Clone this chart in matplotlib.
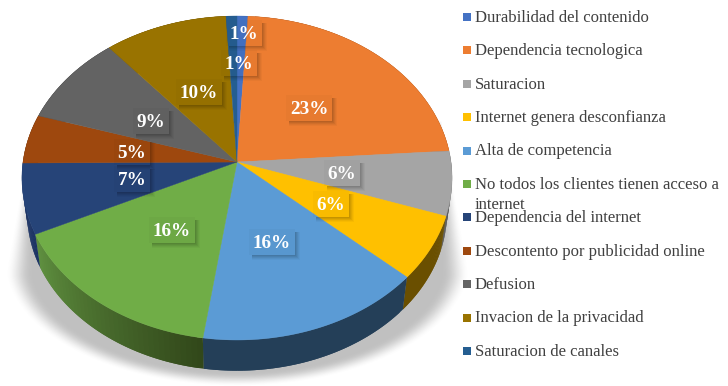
import numpy as np
import matplotlib.pyplot as plt
from matplotlib.colors import to_rgb
from matplotlib.patches import Polygon, Rectangle

categories = ['Durabilidad del contenido', 'Dependencia tecnologica', 'Saturacion',
              'Internet genera desconfianza', 'Alta de competencia',
              'No todos los clientes tienen acceso a\ninternet', 'Dependencia del internet',
              'Descontento por publicidad online', 'Defusion',
              'Invacion de la privacidad', 'Saturacion de canales']
shares = [0.9, 23.0, 6.4, 6.4, 15.6, 15.6, 7.0, 4.9, 9.1, 10.2, 0.9]

colors = ['#4472C4', '#ED7D31', '#A5A5A5', '#FFC000', '#5B9BD5', '#70AD47',
          '#264478', '#9E480E', '#636363', '#997300', '#255E91']
side_start = ['#223962', '#77401a', '#5a5a5a', '#6a4f00', '#243f58', '#32481a',
              '#1b3364', '#4f2407', '#323232', '#4d3a00', '#132f49']
side_end = ['#223962', '#77401a', '#5a5a5a', '#6a4f00', '#243f58', '#5f9040',
            '#1b3364', '#4f2407', '#323232', '#4d3a00', '#132f49']

# label centres in pixels, same order as categories
label_xy = [(244, 33), (309, 108), (342, 173), (331, 204), (272, 242), (172, 230),
            (132, 179), (132, 152), (151, 121), (199, 92), (239, 63)]

# pie geometry in pixels, k is the perspective of the tilted disc
cx, cy = 237, 162
a, b, k = 214, 160.4, 0.0988
depth, shrink = 35, 0.976


def disc(theta, scale=1.0, dy=0.0):
    u, v = np.sin(theta), -np.cos(theta)
    den = 1 - k * v
    return cx + scale * a * u / den, cy + dy + scale * b * v / den


fig = plt.figure(figsize=(7.28, 3.86), dpi=100)
ax = fig.add_axes([0, 0, 1, 1])

# soft shadow under the pie
yy, xx = np.mgrid[0:386, 0:500]
half = np.minimum(205 + np.clip(yy - 125, 0, None) * 0.186, 233)
lower = np.clip(yy - 262, 0, None) / 124
d = np.sqrt((np.abs(xx - cx) / half) ** 2 + lower ** 2)
soft = np.clip((yy - 120) * 0.18, 2, 26)
fade = np.clip((1 - d) * half / soft, 0, 1)
fade = fade * fade * (3 - 2 * fade) * np.clip((yy - 120) / 15, 0, 1)
shadow = np.zeros(yy.shape + (4,))
shadow[..., :3] = 0.42
shadow[..., 3] = fade * 0.42
ax.imshow(shadow, extent=(0, 500, 386, 0), aspect='auto', zorder=1, interpolation='bilinear')
ax.set_xlim(0, 728)
ax.set_ylim(386, 0)
ax.axis('off')

edges = 2 * np.pi * np.cumsum([0] + shares) / sum(shares)

# outer wall, strips overlap a little so no seams show
for i in range(len(shares)):
    t = np.linspace(edges[i], edges[i + 1], 41)
    c0 = np.array(to_rgb(side_start[i]))
    c1 = np.array(to_rgb(side_end[i]))
    for j in range(40):
        seg = t[j:j + 3]
        x1, y1 = disc(seg)
        x2, y2 = disc(seg, shrink, depth)
        col = c0 + (c1 - c0) * j / 39
        ax.fill(np.r_[x1, x2[::-1]], np.r_[y1, y2[::-1]], color=col, lw=0, zorder=2)

# top face
for i in range(len(shares)):
    t = np.linspace(edges[i], edges[i + 1], 80)
    x, y = disc(t)
    ax.fill(np.r_[cx, x], np.r_[cy, y], color=colors[i], lw=0.3, zorder=3)

# percent labels, the box is see-through and only its drop shadow shows
for i, (lx, ly) in enumerate(label_xy):
    txt = f'{shares[i]:.0f}%'
    w = 23 if len(txt) > 2 else 18
    h = 13
    ax.add_patch(Rectangle((lx - w, ly - h), 2 * w, 2 * h, fc='black', alpha=0.025, lw=0, zorder=4))
    for grow, alpha in [(4.5, 0.03), (3.5, 0.04), (2.5, 0.05), (1.5, 0.06), (0.7, 0.06)]:
        x1, y1 = lx + w + grow, ly + h + grow
        pts = [(lx + w, ly - h + 3), (x1, ly - h + 3), (x1, y1), (lx - w + 3, y1),
               (lx - w + 3, ly + h), (lx + w, ly + h)]
        ax.add_patch(Polygon(pts, fc='black', alpha=alpha, lw=0, zorder=4))
    ax.text(lx, ly + 1.5, txt, color='white', fontsize=13.8, fontweight='bold', family='Liberation Serif',
            ha='center', va='center', zorder=5)

# legend by hand, the wrapped entry runs into the next row in the original
for i, name in enumerate(categories):
    y = 17 + i * 33.4
    ax.add_patch(Rectangle((463, y - 4), 8, 8, fc=colors[i], lw=0, zorder=6))
    for j, line in enumerate(name.split('\n')):
        ax.text(475, y + 0.8 + j * 20, line, color='#404040', fontsize=12, family='Liberation Serif',
                ha='left', va='center', zorder=6)

fig.savefig('out.png', dpi=100)
